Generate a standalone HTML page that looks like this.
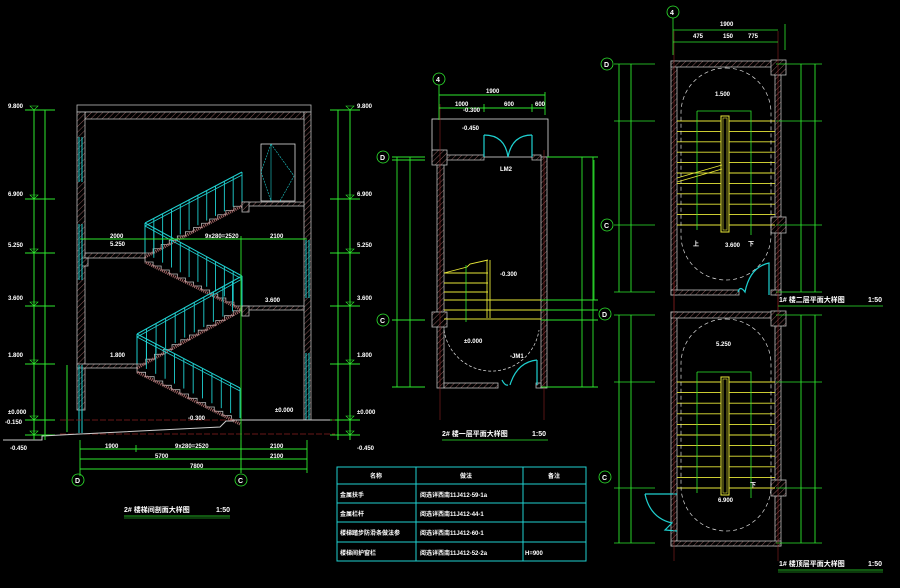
<!DOCTYPE html>
<html><head><meta charset="utf-8"><style>
html,body{margin:0;padding:0;background:#000;}
svg{display:block}
text{font-family:"Liberation Sans","Noto Sans CJK SC",sans-serif;fill:#fff;font-size:6px;font-weight:bold}
</style></head><body>
<svg id="s" width="900" height="588" viewBox="0 0 900 588" xmlns="http://www.w3.org/2000/svg">
<defs>
<pattern id="h" width="4" height="4" patternUnits="userSpaceOnUse" patternTransform="rotate(45)"><rect width="4" height="4" fill="#000"/><line x1="0" y1="0" x2="0" y2="4" stroke="#8a5a5a" stroke-width="1"/></pattern>
</defs>
<rect width="900" height="588" fill="#000"/>
<g id="g"></g>

<g fill="url(#h)" stroke="#bbb" stroke-width="0.8">
<rect x="77" y="105" width="234" height="7" fill="none"/>
<rect x="85" y="112" width="219" height="7"/>
<rect x="77" y="112" width="8" height="298"/>
<rect x="304" y="112" width="7" height="308"/>
<rect x="85" y="253" width="60" height="5"/>
<rect x="82" y="258" width="6" height="8"/>
<rect x="242" y="202" width="62" height="4"/>
<rect x="242" y="202" width="7" height="10"/>
<rect x="242" y="306" width="62" height="4"/>
<rect x="242" y="306" width="7" height="10"/>
<rect x="77" y="364" width="60" height="4"/>
</g>
<g stroke="#1fd0d0" stroke-width="1">
<line x1="79" y1="137" x2="79" y2="182"/><line x1="82" y1="137" x2="82" y2="182"/>
<line x1="79" y1="224" x2="79" y2="280"/><line x1="82" y1="224" x2="82" y2="280"/>
<line x1="79" y1="365" x2="79" y2="433"/><line x1="82" y1="365" x2="82" y2="433"/>
<line x1="306" y1="240" x2="306" y2="298"/><line x1="309" y1="240" x2="309" y2="298"/>
<line x1="306" y1="353" x2="306" y2="420"/><line x1="309" y1="353" x2="309" y2="420"/>
</g>
<rect x="261" y="144" width="34" height="57" fill="none" stroke="#ddd" stroke-width="0.8"/>
<path d="M271 144 L261 172 L271 201 M271 144 L294 176 L280 201" fill="none" stroke="#1fd0d0" stroke-width="0.6" stroke-dasharray="2,1"/>
<line x1="271" y1="144" x2="271" y2="201" stroke="#1fd0d0" stroke-width="0.6"/>
<line x1="60" y1="420" x2="335" y2="420" stroke="#8b2020" stroke-width="0.7" stroke-dasharray="6,2"/>
<line x1="60" y1="434" x2="335" y2="434" stroke="#8b2020" stroke-width="0.7" stroke-dasharray="6,2"/>
<path d="M3 440 L42 440 L42 436 L80 434 L220 427 L226 421 L233 421 L233 420 L330 420" fill="none" stroke="#ccc" stroke-width="1"/>
<g stroke="#2ee82e" stroke-width="1">
<line x1="34" y1="110" x2="34" y2="440"/><line x1="45" y1="110" x2="45" y2="440"/>
<line x1="338" y1="110" x2="338" y2="440"/><line x1="350" y1="110" x2="350" y2="440"/>
<line x1="67" y1="365" x2="67" y2="432"/>
</g>
<g stroke="#2ee82e" stroke-width="0.9">
<line x1="80" y1="449" x2="307" y2="449"/><line x1="80" y1="459" x2="307" y2="459"/><line x1="80" y1="469" x2="307" y2="469"/>
<line x1="80" y1="440" x2="80" y2="473"/><line x1="241" y1="440" x2="241" y2="473"/><line x1="307" y1="440" x2="307" y2="473"/><line x1="136" y1="445" x2="136" y2="452"/>
<line x1="80" y1="239" x2="307" y2="239"/>
<line x1="241" y1="236" x2="241" y2="473"/><line x1="80" y1="473" x2="80" y2="476"/>
</g>
<circle cx="78" cy="480" r="6" fill="none" stroke="#2ee82e" stroke-width="0.8"/><text x="75" y="483" style="font-size:7px">D</text>
<circle cx="241" cy="480" r="6" fill="none" stroke="#2ee82e" stroke-width="0.8"/><text x="238" y="483" style="font-size:7px">C</text>
<text x="124" y="512" style="font-size:7px">2# 楼梯间剖面大样图</text><text x="216" y="512" style="font-size:7px">1:50</text>
<line x1="124" y1="516" x2="230" y2="516" stroke="#2ee82e" stroke-width="0.8"/><line x1="124" y1="518" x2="230" y2="518" stroke="#2ee82e" stroke-width="0.5"/>
<g style="font-size:5px">
<text x="8" y="108">9.800</text><text x="8" y="196">6.900</text><text x="8" y="247">5.250</text><text x="8" y="300">3.600</text><text x="8" y="357">1.800</text><text x="8" y="414">±0.000</text><text x="5" y="424">-0.150</text><text x="10" y="450">-0.450</text>
<text x="357" y="108">9.800</text><text x="357" y="196">6.900</text><text x="357" y="247">5.250</text><text x="357" y="300">3.600</text><text x="357" y="357">1.800</text><text x="357" y="414">±0.000</text><text x="357" y="450">-0.450</text>
<text x="110" y="238">2000</text><text x="205" y="238">9x280=2520</text><text x="270" y="238">2100</text>
<text x="105" y="448">1900</text><text x="175" y="448">9x280=2520</text><text x="270" y="448">2100</text>
<text x="155" y="458">5700</text><text x="270" y="458">2100</text><text x="190" y="468">7800</text>
<text x="188" y="420">-0.300</text><text x="275" y="412">±0.000</text><text x="265" y="302">3.600</text><text x="110" y="246">5.250</text><text x="110" y="357">1.800</text>
</g>
<g stroke="#1fd0d0" stroke-width="1" fill="none">
<rect x="337" y="467" width="249" height="94"/>
<line x1="337" y1="484" x2="586" y2="484"/><line x1="337" y1="503" x2="586" y2="503"/><line x1="337" y1="522" x2="586" y2="522"/><line x1="337" y1="542" x2="586" y2="542"/>
<line x1="416" y1="467" x2="416" y2="561"/><line x1="523" y1="467" x2="523" y2="561"/>
</g>
<g style="font-size:7px">
<text x="370" y="478">名称</text><text x="460" y="478">做法</text><text x="548" y="478">备注</text>
<text x="340" y="497">金属扶手</text><text x="420" y="497">阅选详西南11J412-59-1a</text>
<text x="340" y="516">金属栏杆</text><text x="420" y="516">阅选详西南11J412-44-1</text>
<text x="340" y="535">楼梯踏步防滑条做法参</text><text x="420" y="535">阅选详西南11J412-60-1</text>
<text x="340" y="555">楼梯间护窗栏</text><text x="420" y="555">阅选详西南11J412-52-2a</text><text x="525" y="555">H=900</text>
</g>

<rect x="432" y="119" width="116" height="38" fill="none" stroke="#ddd" stroke-width="0.8"/>
<g fill="url(#h)" stroke="#bbb" stroke-width="0.8">
<rect x="437" y="157" width="7" height="231"/>
<rect x="541" y="157" width="6" height="231"/>
<rect x="444" y="155" width="40" height="5"/>
<rect x="532" y="155" width="9" height="5"/>
<rect x="444" y="383" width="54" height="5"/>
<rect x="536" y="383" width="5" height="5"/>
<rect x="432" y="150" width="15" height="15"/>
<rect x="432" y="312" width="15" height="15"/>
</g>
<g stroke="#1fd0d0" stroke-width="1.2" fill="none">
<path d="M484 135 L484 157 M532 135 L532 157 M484 135 Q505 135 508 157 M532 135 Q512 135 508 157"/>
<path d="M537 360 L537 385 M537 360 Q517 362 510 385 M502 380 Q505 386 508 385"/>
</g>
<g stroke="#e8e838" stroke-width="0.9">
<line x1="444" y1="273" x2="488" y2="273"/><line x1="444" y1="283" x2="488" y2="283"/><line x1="444" y1="292" x2="488" y2="292"/>
<line x1="444" y1="300" x2="541" y2="300"/><line x1="444" y1="310" x2="541" y2="310"/><line x1="444" y1="319" x2="541" y2="319"/>
<line x1="487" y1="260" x2="487" y2="318"/><line x1="490" y1="260" x2="490" y2="318"/>
<path d="M444 273 L467 267 L470 264 L488 260" fill="none"/>
</g>
<line x1="466" y1="265" x2="466" y2="322" stroke="#2ee82e" stroke-width="0.8"/>
<path d="M444 330 A48 48 0 0 0 539 330" fill="none" stroke="#ddd" stroke-width="0.7" stroke-dasharray="3,2"/>
<line x1="440" y1="104" x2="440" y2="420" stroke="#8b2020" stroke-width="0.6"/>
<line x1="544" y1="150" x2="544" y2="420" stroke="#8b2020" stroke-width="0.6"/>
<g stroke="#2ee82e" stroke-width="0.9">
<line x1="439" y1="85" x2="439" y2="120"/>
<line x1="439" y1="95" x2="545" y2="95"/><line x1="439" y1="108" x2="545" y2="108"/>
<line x1="545" y1="92" x2="545" y2="115"/><line x1="484" y1="104" x2="484" y2="112"/><line x1="532" y1="104" x2="532" y2="112"/>
<line x1="397" y1="157" x2="397" y2="387"/><line x1="410" y1="157" x2="410" y2="387"/>
<line x1="392" y1="157" x2="425" y2="157"/><line x1="392" y1="160" x2="425" y2="160"/><line x1="392" y1="320" x2="425" y2="320"/><line x1="392" y1="387" x2="425" y2="387"/>
<line x1="582" y1="157" x2="582" y2="387"/><line x1="593" y1="157" x2="593" y2="387"/>
<line x1="547" y1="157" x2="598" y2="157"/><line x1="541" y1="300" x2="598" y2="300"/><line x1="541" y1="310" x2="598" y2="310"/><line x1="541" y1="320" x2="598" y2="320"/><line x1="541" y1="387" x2="598" y2="387"/>
</g>
<circle cx="383" cy="157" r="6" fill="none" stroke="#2ee82e" stroke-width="0.8"/><text x="380" y="160" style="font-size:7px">D</text>
<circle cx="383" cy="320" r="6" fill="none" stroke="#2ee82e" stroke-width="0.8"/><text x="380" y="323" style="font-size:7px">C</text>
<circle cx="439" cy="79" r="6" fill="none" stroke="#2ee82e" stroke-width="0.8"/><text x="436" y="82" style="font-size:7px">4</text>
<g style="font-size:5px"><text x="486" y="93">1900</text><text x="455" y="106">1000</text><text x="504" y="106">600</text><text x="535" y="106">600</text><text x="463" y="112">-0.300</text><text x="462" y="130">-0.450</text><text x="500" y="171">LM2</text><text x="500" y="276">-0.300</text><text x="464" y="343">±0.000</text><text x="510" y="358">-JM1</text></g>
<text x="442" y="436" style="font-size:7px">2# 楼一层平面大样图</text><text x="532" y="436" style="font-size:7px">1:50</text>
<line x1="442" y1="440" x2="548" y2="440" stroke="#2ee82e" stroke-width="0.8"/>

<circle cx="607" cy="64" r="6" fill="none" stroke="#2ee82e" stroke-width="0.8"/><text x="604" y="67" style="font-size:7px">D</text>
<circle cx="607" cy="225" r="6" fill="none" stroke="#2ee82e" stroke-width="0.8"/><text x="604" y="228" style="font-size:7px">C</text>
<circle cx="673" cy="12" r="6" fill="none" stroke="#2ee82e" stroke-width="0.8"/><text x="670" y="15" style="font-size:7px">4</text>
<circle cx="605" cy="314" r="6" fill="none" stroke="#2ee82e" stroke-width="0.8"/><text x="602" y="317" style="font-size:7px">D</text>
<circle cx="605" cy="477" r="6" fill="none" stroke="#2ee82e" stroke-width="0.8"/><text x="602" y="480" style="font-size:7px">C</text>
<g style="font-size:5px"><text x="720" y="26">1900</text><text x="693" y="38">475</text><text x="723" y="38">150</text><text x="748" y="38">775</text><text x="715" y="96">1.500</text><text x="725" y="247">3.600</text><text x="716" y="346">5.250</text><text x="718" y="502">6.900</text></g>
<g style="font-size:8px"><text x="693" y="246">上</text><text x="748" y="246">下</text><text x="750" y="487">下</text></g>
<text x="779" y="302" style="font-size:7px">1# 楼二层平面大样图</text><text x="868" y="302" style="font-size:7px">1:50</text>
<text x="779" y="566" style="font-size:7px">1# 楼顶层平面大样图</text><text x="868" y="566" style="font-size:7px">1:50</text>
<line x1="778" y1="306" x2="883" y2="306" stroke="#2ee82e" stroke-width="0.8"/>
<line x1="778" y1="570" x2="883" y2="570" stroke="#2ee82e" stroke-width="0.8"/><line x1="778" y1="572" x2="883" y2="572" stroke="#2ee82e" stroke-width="0.5"/>
</svg>
<script>
var NS="http://www.w3.org/2000/svg",g=document.getElementById("g");
function el(t,a){var e=document.createElementNS(NS,t);for(var k in a)e.setAttribute(k,a[k]);g.appendChild(e);return e;}
function flight(x1,y1,x2,y2,n){var d="M"+x1+" "+y1;var dx=(x2-x1)/n,dy=(y2-y1)/n;for(var i=0;i<n;i++){var x=x1+dx*i,y=y1+dy*i;d+=" L"+(x+dx)+" "+y+" L"+(x+dx)+" "+(y+dy);}
el("path",{d:d,fill:"none",stroke:"#bbb","stroke-width":0.8});
el("line",{x1:x1,y1:y1+4,x2:x2,y2:y2+4,stroke:"#aa6a6a","stroke-width":3,"stroke-dasharray":"1,1"});}
flight(240,420,137,368,12);flight(137,364,242,306,12);flight(242,306,145,258,12);flight(145,253,242,202,12);
function rail(x1,y1,x2,y2,n){var r=30;el("line",{x1:x1,y1:y1-r,x2:x2,y2:y2-r,stroke:"#1fd0d0","stroke-width":1});el("line",{x1:x1,y1:y1-r+3,x2:x2,y2:y2-r+3,stroke:"#1fd0d0","stroke-width":0.8});
for(var i=0;i<=n;i++){var x=x1+(x2-x1)*i/n,y=y1+(y2-y1)*i/n;el("line",{x1:x,y1:y-r,x2:x,y2:y,stroke:"#1fd0d0","stroke-width":0.9});}}
rail(240,418,137,364,11);rail(137,364,242,306,11);rail(242,306,145,253,11);rail(145,253,242,202,11);
[110,199,253,306,364,420,435].forEach(function(y){[[25,55],[330,360]].forEach(function(p){el("line",{x1:p[0],y1:y,x2:p[1],y2:y,stroke:"#2ee82e","stroke-width":0.9});});
el("path",{d:"M30 "+(y-4)+" L38 "+(y-4)+" L34 "+y+" Z",fill:"none",stroke:"#2ee82e","stroke-width":0.6});
el("path",{d:"M346 "+(y-4)+" L354 "+(y-4)+" L350 "+y+" Z",fill:"none",stroke:"#2ee82e","stroke-width":0.6});});
function plan(y0,y1,doorLeft){var h="url(#h)";
el("rect",{x:671,y:y0,width:6,height:y1-y0,fill:h,stroke:"#bbb","stroke-width":0.8});
el("rect",{x:775,y:y0,width:6,height:y1-y0,fill:h,stroke:"#bbb","stroke-width":0.8});
el("rect",{x:671,y:y0,width:110,height:6,fill:h,stroke:"#bbb","stroke-width":0.8});
if(doorLeft){el("rect",{x:671,y:y1-5,width:110,height:5,fill:h,stroke:"#bbb","stroke-width":0.8});}
else{el("rect",{x:671,y:y1-5,width:68,height:5,fill:h,stroke:"#bbb","stroke-width":0.8});el("rect",{x:771,y:y1-5,width:10,height:5,fill:h,stroke:"#bbb","stroke-width":0.8});}
el("rect",{x:771,y:y0-1,width:15,height:15,fill:h,stroke:"#bbb","stroke-width":0.8});
var cy=y0+(doorLeft?176:164);el("rect",{x:771,y:cy-8,width:15,height:16,fill:h,stroke:"#bbb","stroke-width":0.8});
var top=y0+(doorLeft?70:60),n=11;for(var i=0;i<n;i++){var yy=top+i*((cy-top)/(n-1));el("line",{x1:677,y1:yy,x2:775,y2:yy,stroke:"#e8e838","stroke-width":0.9});}
el("rect",{x:721,y:top-5,width:8,height:cy-top+12,fill:"#000",stroke:"#e8e838","stroke-width":1});
el("rect",{x:723,y:top-3,width:4,height:cy-top+8,fill:"none",stroke:"#e8e838","stroke-width":0.6});
el("path",{d:"M697 "+(top-10)+" L751 "+(top-10)+" L751 "+(cy+10)+" M697 "+(top-10)+" L697 "+(cy+5),fill:"none",stroke:"#2ee82e","stroke-width":0.8});
el("rect",{x:681,y:y0+7,width:90,height:y1-y0-22,rx:45,ry:45,fill:"none",stroke:"#ddd","stroke-width":0.7,"stroke-dasharray":"4,3"});
if(doorLeft){el("path",{d:"M645 "+(cy+6)+" L677 "+(cy+6)+" M645 "+(cy+6)+" Q650 "+(cy+30)+" 672 "+(cy+35)+" L665 "+(cy+42)+" L677 "+(cy+43),fill:"none",stroke:"#1fd0d0","stroke-width":1.2});}
else{el("path",{d:"M769 "+(y1)+" L769 "+(y1-32)+" Q750 "+(y1-28)+" 745 "+(y1-3)+" Q740 "+(y1-10)+" 738 "+(y1-3),fill:"none",stroke:"#1fd0d0","stroke-width":1.2});}
[[619,631],[801,815]].forEach(function(p){el("line",{x1:p[0],y1:y0+3,x2:p[0],y2:y1-3,stroke:"#2ee82e","stroke-width":0.9});el("line",{x1:p[1],y1:y0+3,x2:p[1],y2:y1-3,stroke:"#2ee82e","stroke-width":0.9});});
[y0+3,top,cy,y1-3].forEach(function(yy){el("line",{x1:614,y1:yy,x2:655,y2:yy,stroke:"#2ee82e","stroke-width":0.8});el("line",{x1:776,y1:yy,x2:822,y2:yy,stroke:"#2ee82e","stroke-width":0.8});});
el("line",{x1:674,y1:y0-30,x2:674,y2:y1+15,stroke:"#8b2020","stroke-width":0.6});el("line",{x1:778,y1:y0-30,x2:778,y2:y1+15,stroke:"#8b2020","stroke-width":0.6});
}
plan(61,295,false);plan(312,546,true);
[[673,30,778,30],[673,42,778,42]].forEach(function(l){el("line",{x1:l[0],y1:l[1],x2:l[2],y2:l[3],stroke:"#2ee82e","stroke-width":0.8});});
el("line",{x1:673,y1:18,x2:673,y2:55,stroke:"#2ee82e","stroke-width":0.8});
el("line",{x1:785,y1:24,x2:785,y2:50,stroke:"#2ee82e","stroke-width":0.8});
el("path",{d:"M677 178 L722 165 M677 182 L722 169",stroke:"#e8e838","stroke-width":0.9,fill:"none"});
el("line",{x1:594,y1:160,x2:594,y2:300,stroke:"#2ee82e","stroke-width":0.8});
</script>
</body></html>
